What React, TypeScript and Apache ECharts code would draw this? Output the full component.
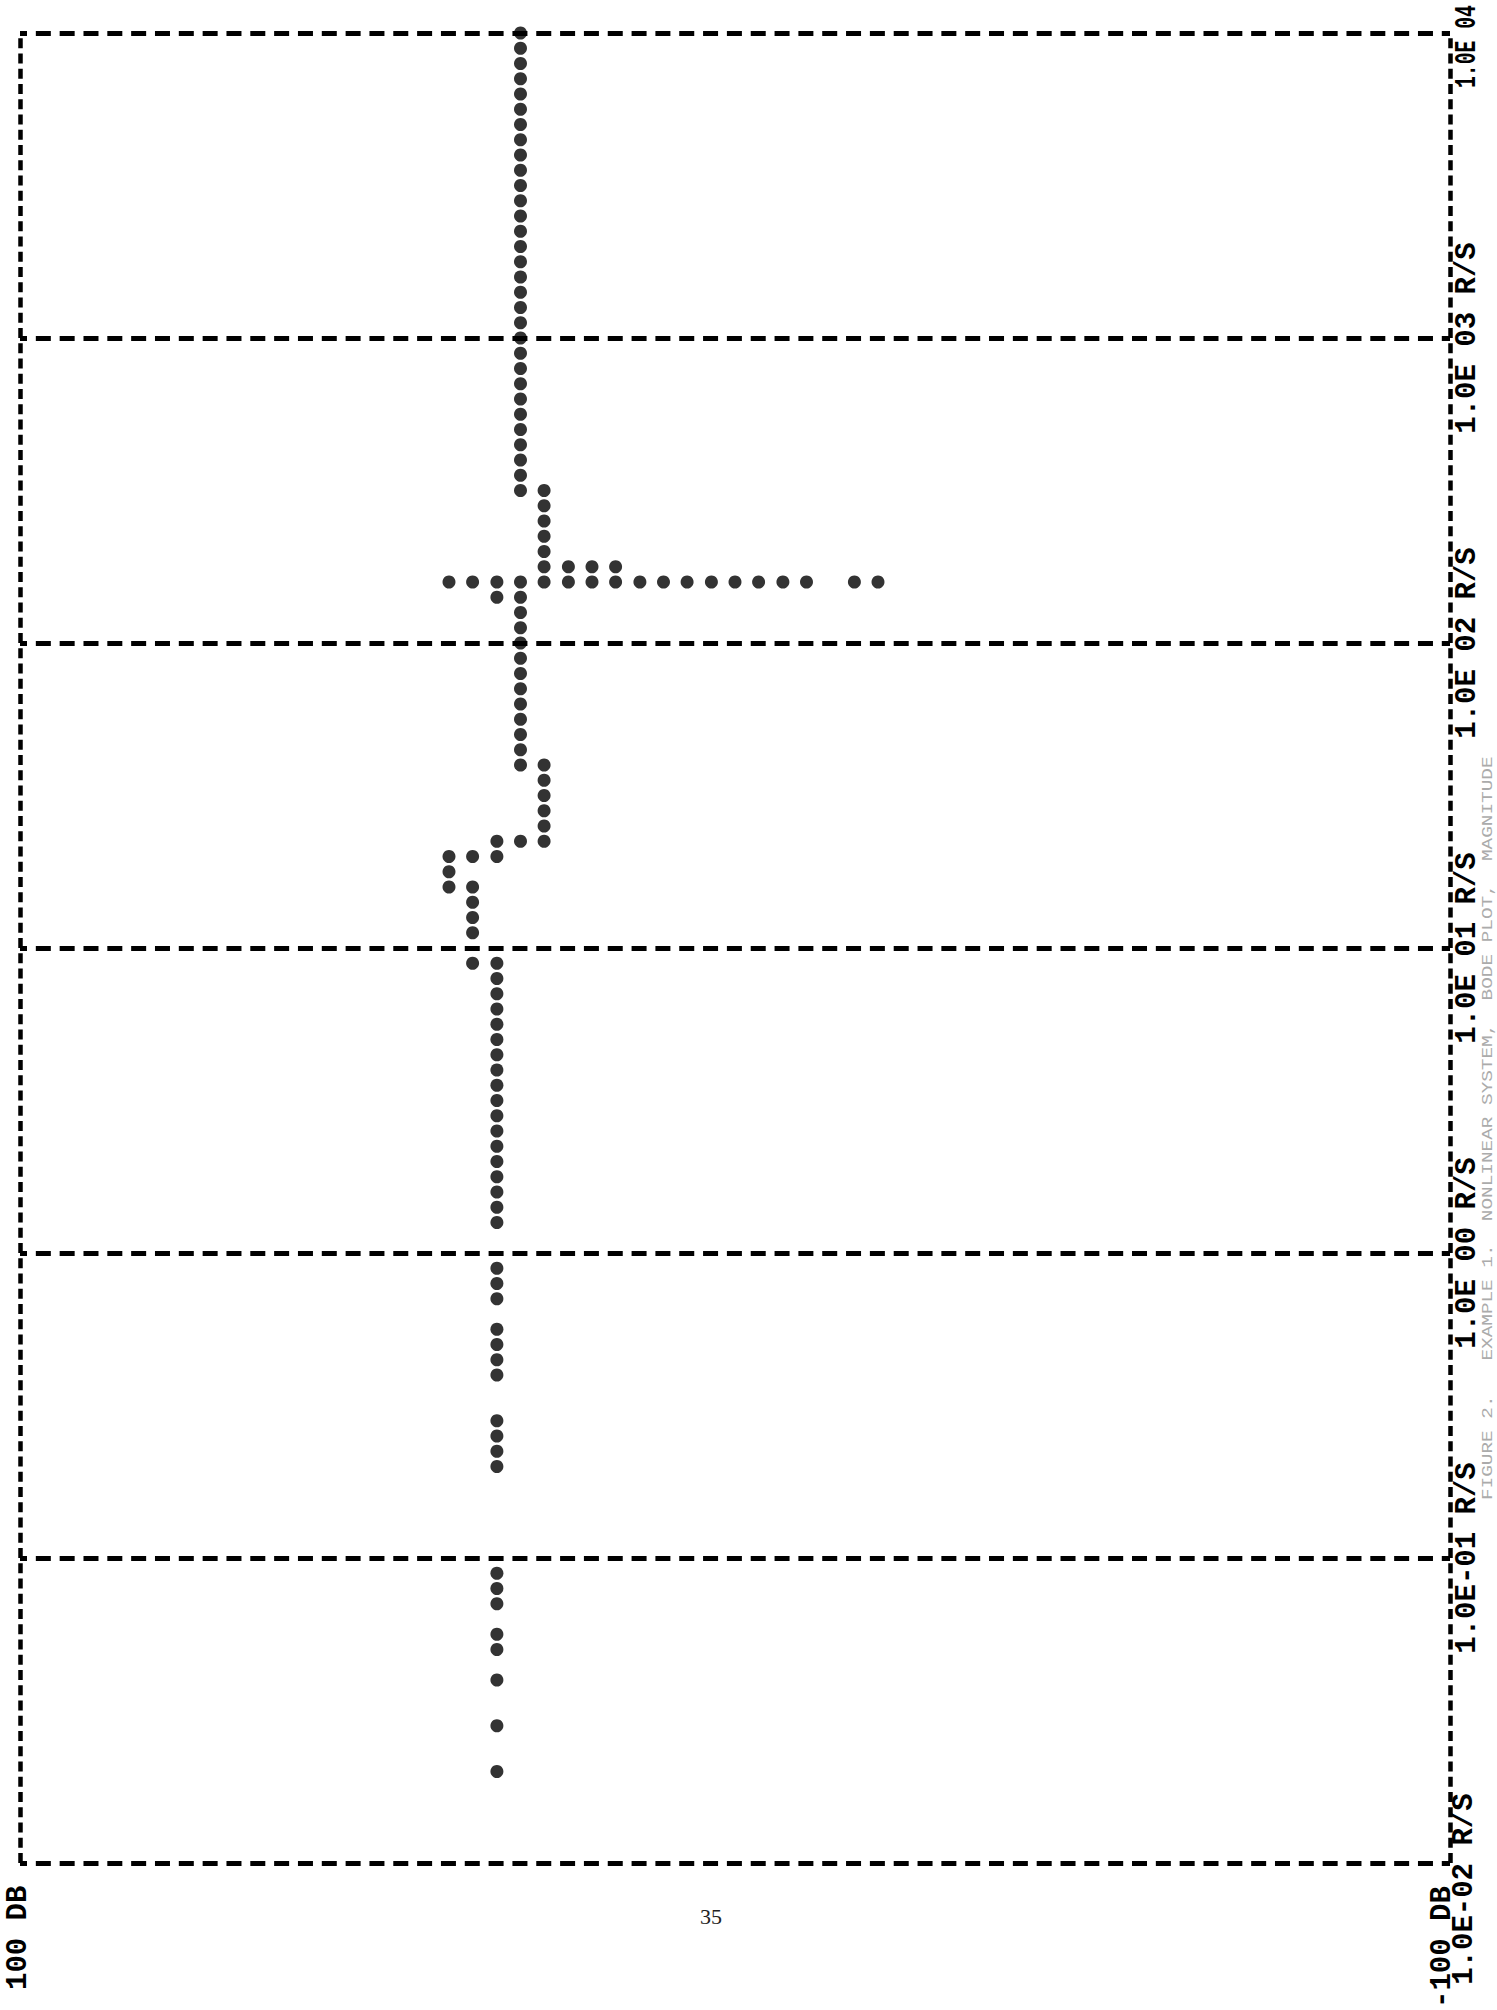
import React, { useEffect, useRef } from "react";
import * as echarts from "echarts";

// Frequency axis: decades of rad/s, written as exponents of ten
const decadeExponents = [-2, -1, 0, 1, 2, 3, 4];
const decadeLabels = [
  "1.0E-02 R/S",
  "1.0E-01 R/S",
  "1.0E 00 R/S",
  "1.0E 01 R/S",
  "1.0E 02 R/S",
  "1.0E 03 R/S",
  "1.0E 04",
];
const magMaxLabel = "100 DB";
const magMinLabel = "-100 DB";
const pageNumber = "35";
const caption = "FIGURE 2.   EXAMPLE 1.  NONLINEAR SYSTEM,  BODE PLOT,  MAGNITUDE";

// Printed points: frequency exponents (log10 rad/s) found in each magnitude column (dB)
const exp40dB = [2.2, 1.3, 1.25, 1.2];
const exp36dB = [2.2, 1.3, 1.2, 1.15, 1.1, 1.05, 0.95];
const exp33dB = [
  2.2, 2.15, 1.35, 1.3, 0.95, 0.9, 0.85, 0.8, 0.75, 0.7, 0.65, 0.6, 0.55, 0.5,
  0.45, 0.4, 0.35, 0.3, 0.25, 0.2, 0.15, 0.1, -0.05, -0.1, -0.15, -0.25, -0.3,
  -0.35, -0.4, -0.55, -0.6, -0.65, -0.7, -1.05, -1.1, -1.15, -1.25, -1.3, -1.4,
  -1.55, -1.7,
];
const exp30dB = [
  4.0, 3.95, 3.9, 3.85, 3.8, 3.75, 3.7, 3.65, 3.6, 3.55, 3.5, 3.45, 3.4, 3.35,
  3.3, 3.25, 3.2, 3.15, 3.1, 3.05, 3.0, 2.95, 2.9, 2.85, 2.8, 2.75, 2.7, 2.65,
  2.6, 2.55, 2.5, 2.2, 2.15, 2.1, 2.05, 2.0, 1.95, 1.9, 1.85, 1.8, 1.75, 1.7,
  1.65, 1.6, 1.35,
];
const exp27dB = [2.5, 2.45, 2.4, 2.35, 2.3, 2.25, 2.2, 1.6, 1.55, 1.5, 1.45, 1.4, 1.35];
const exp23dB = [2.25, 2.2];
const exp20dB = [2.25, 2.2];
const exp17dB = [2.25, 2.2];
// the single printed row at 10^2.2 rad/s that runs out to the right
const jumpRowExp = 2.2;
const jumpRowDb = [13.3, 10, 6.7, 3.3, 0, -3.3, -6.7, -10, -16.7, -20];

const columns: [number, number[]][] = [
  [40, exp40dB],
  [36.7, exp36dB],
  [33.3, exp33dB],
  [30, exp30dB],
  [26.7, exp27dB],
  [23.3, exp23dB],
  [20, exp20dB],
  [16.7, exp17dB],
];

const INK = "#000000";
const FONT_SIZE = 29;
const PITCH = FONT_SIZE * 0.6;
const MONO = '"Liberation Mono", "DejaVu Sans Mono", monospace';

function printText(
  text: string,
  x: number,
  y: number,
  align: string,
  size: number,
  extra: any = {},
  scaleX = 1
) {
  return {
    type: "text",
    x,
    y,
    rotation: Math.PI / 2,
    scaleX,
    silent: true,
    style: {
      text,
      fontFamily: MONO,
      fontWeight: "bold",
      fontSize: size,
      fill: INK,
      textAlign: align,
      textVerticalAlign: "middle",
      verticalAlign: "middle",
      ...extra,
    },
  };
}

export default function App() {
  const ref = useRef<HTMLDivElement>(null);

  useEffect(() => {
    const el = ref.current;
    if (!el) return;
    const chart = echarts.init(el, null, { renderer: "svg" });

    const points: number[][] = [];
    columns.forEach(([db, exps]) => exps.forEach((e) => points.push([db, e])));
    jumpRowDb.forEach((db) => points.push([db, jumpRowExp]));

    chart.setOption({
      animation: false,
      backgroundColor: "#ffffff",
      grid: { left: 20, right: 47, top: 33, bottom: 147, containLabel: false },
      xAxis: {
        type: "value",
        min: -100,
        max: 100,
        inverse: true,
        axisLine: { show: false },
        axisTick: { show: false },
        axisLabel: { show: false },
        splitLine: { show: false },
      },
      yAxis: {
        type: "value",
        min: -2,
        max: 4,
        interval: 1,
        axisLine: { show: false },
        axisTick: { show: false },
        axisLabel: { show: false },
        splitLine: {
          show: true,
          showMinLine: true,
          showMaxLine: true,
          lineStyle: { color: INK, width: 5, type: [15, 8.83], dashOffset: 7.5 },
        },
      },
      series: [
        {
          type: "scatter",
          data: points,
          symbol: "circle",
          symbolSize: 13,
          itemStyle: { color: INK },
          silent: true,
          markLine: {
            silent: true,
            symbol: ["none", "none"],
            label: { show: false },
            lineStyle: { color: INK, width: 4.5, type: [10, 5.25] },
            data: [{ xAxis: 100 }, { xAxis: -100 }],
          },
        },
      ],
    });

    const last = decadeExponents.length - 1;
    const graphics: any[] = decadeExponents.map((d, i) => {
      const y = chart.convertToPixel({ yAxisIndex: 0 }, d) as number;
      const text = decadeLabels[i];
      if (i === last) {
        // top label, compressed along its line so it stays on the page
        return printText(text, 1467, 88, "left", FONT_SIZE, {}, 0.68);
      }
      if (i === 0) {
        // bottom label: its first blank sits on the decade line
        return printText(text, 1464, y + 7 * PITCH, "left", FONT_SIZE);
      }
      return printText(text, 1467, y, "center", FONT_SIZE);
    });

    graphics.push(printText(magMaxLabel, 18, 1990, "left", FONT_SIZE));
    graphics.push(printText(magMinLabel, 1442, 2008, "left", FONT_SIZE));
    graphics.push({
      type: "text",
      x: 711,
      y: 1916,
      silent: true,
      style: {
        text: pageNumber,
        fontFamily: '"Liberation Serif", serif',
        fontSize: 22,
        fill: "#222",
        textAlign: "center",
        textVerticalAlign: "middle",
        verticalAlign: "middle",
      },
    });
    graphics.push(
      printText(caption, 1488, 1500, "left", 15.5, { fontWeight: "normal", fill: "#ababab" }, 1.25)
    );

    chart.setOption({ graphic: graphics });

    return () => {
      chart.dispose();
    };
  }, []);

  return (
    <div
      ref={ref}
      style={{ position: "absolute", left: 0, top: 0, width: 1497, height: 2010, background: "#fff" }}
    />
  );
}
